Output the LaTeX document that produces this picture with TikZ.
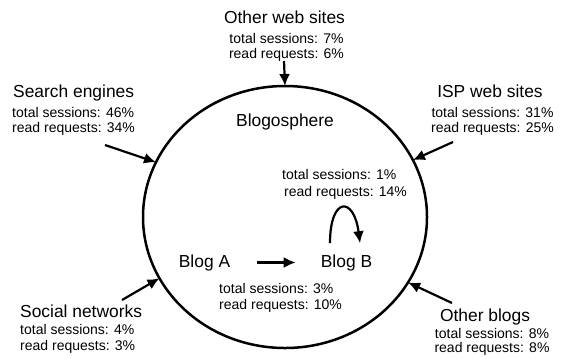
\documentclass[tikz,border=0pt]{standalone}
\usepackage{fontspec}
\setmainfont{Liberation Sans}
\usetikzlibrary{shapes.geometric,arrows.meta}
\begin{document}
\begin{tikzpicture}[x=1bp,y=-1bp,
    hdr/.style={font=\fontsize{17.4bp}{20bp}\selectfont,inner sep=0pt},
    stat/.style={font=\fontsize{14bp}{16bp}\selectfont,inner sep=0pt},
    arr/.style={line width=2.2bp,-{Latex[length=12bp,width=11bp]}}]
      \useasboundingbox (0,0) rectangle (562,358) ;
      \node[draw,ellipse,line width=2.5bp,minimum width=284bp,minimum height=262bp,%
        inner sep=0pt,outer sep=0pt] (sphere) at (285,217) {} ;
      \node[hdr,anchor=base] (title) at (285,126.5) {Blogosphere} ;
      % sources round the blogosphere
      \node[hdr,anchor=base] (web) at (284.5,23) {Other web sites} ;
      \node[stat,anchor=base] (webts) at (286.5,43) {total sessions: 7\%} ;
      \node[stat,anchor=base] (webrr) at (286.5,58) {read requests: 6\%} ;
      \node[hdr,anchor=base west] (search) at (13,97) {Search engines} ;
      \node[stat,anchor=base west] (searchts) at (12,117) {total sessions: 46\%} ;
      \node[stat,anchor=base west] (searchrr) at (12,132.5) {read requests: 34\%} ;
      \node[hdr,anchor=base] (isp) at (490,97) {ISP web sites} ;
      \node[stat,anchor=base] (ispts) at (492.5,117) {total sessions: 31\%} ;
      \node[stat,anchor=base] (isprr) at (492.5,132.5) {read requests: 25\%} ;
      \node[hdr,anchor=base west] (social) at (20,317) {Social networks} ;
      \node[stat,anchor=base west] (socialts) at (20,334) {total sessions: 4\%} ;
      \node[stat,anchor=base west] (socialrr) at (20,350) {read requests: 3\%} ;
      \node[hdr,anchor=base] (blogs) at (485,321.5) {Other blogs} ;
      \node[stat,anchor=base] (blogsts) at (492,338) {total sessions: 8\%} ;
      \node[stat,anchor=base] (blogsrr) at (492,352) {read requests: 8\%} ;
      \coordinate (webtail) at (284,61) ;
      \coordinate (searchtail) at (105,145) ;
      \coordinate (isptail) at (453,142) ;
      \coordinate (socialtail) at (122,300) ;
      \coordinate (blogstail) at (452,303) ;
      \draw[arr] (webtail) -- (sphere.90) ;
      \draw[arr] (searchtail) -- (sphere.157) ;
      \draw[arr] (isptail) -- (sphere.24) ;
      \draw[arr] (socialtail) -- (sphere.206) ;
      \draw[arr] (blogstail) -- (sphere.332) ;
      % inside
      \node[stat,anchor=base west] (loopts) at (282,179) {total sessions: 1\%} ;
      \node[stat,anchor=base west] (looprr) at (284,196.5) {read requests: 14\%} ;
      \node[hdr,anchor=base] (bloga) at (204.5,267) {Blog A} ;
      \node[hdr,anchor=base] (blogb) at (346.5,267) {Blog B} ;
      \node[stat,anchor=base west] (linkts) at (219,293) {total sessions: 3\%} ;
      \node[stat,anchor=base west] (linkrr) at (219,309) {read requests: 10\%} ;
      \draw[arr,shorten <=27bp,shorten >=25bp] (bloga.east) -- (blogb.west) ;
      \draw[arr] ([xshift=-16.5bp,yshift=11bp]blogb.north) .. controls +(0,-47) %
        and +(-6,-47) .. ([xshift=13.5bp,yshift=11bp]blogb.north) ;
    \end{tikzpicture}
\end{document}
